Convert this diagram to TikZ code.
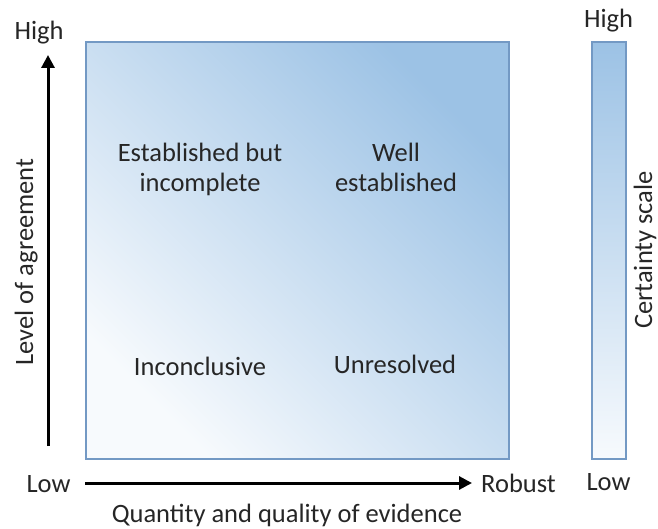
\documentclass[tikz,border=0pt]{standalone}
\usepackage{fontspec}
\setmainfont{Carlito}
\usetikzlibrary{arrows.meta}
\definecolor{dark}{HTML}{9CC2E5}
\definecolor{light}{HTML}{F7FAFD}
\definecolor{edge}{HTML}{7399C4}
\tikzset{
  lbl/.style={font=\fontsize{26.5}{30}\selectfont, inner sep=0pt, text=black!85, anchor=base},
  cell/.style={lbl, align=center},
  axisarrow/.style={line width=3pt, -{Triangle[length=13pt,width=13pt]}},
}
\begin{document}
\begin{tikzpicture}[x=1pt,y=-1pt]
\useasboundingbox (0,0) rectangle (658,529);
% main square
\shade[draw=edge, line width=1.3pt, shading=axis, top color=dark, bottom color=light, shading angle=-45]
  (86,42) rectangle (509,459);
% colour bar
\shade[draw=edge, line width=1.3pt, top color=dark, bottom color=light]
  (592,42) rectangle (626,459);
% cell labels (base = baseline of last line)
\node[cell] (c1) at (200,192) {Established but\\incomplete};
\node[cell] (c2) at (396,192) {Well\\established};
\node[cell] (c3) at (200,375) {Inconclusive};
\node[cell] (c4) at (395,373) {Unresolved};
% axes
\node[lbl] (hi) at (39,40) {High};
\node[lbl] (lo) at (48.5,492) {Low};
\node[lbl] (rob) at (518.5,492) {Robust};
\coordinate (vs) at (48,446);
\coordinate (ve) at (48,55);
\draw[axisarrow] (vs) -- (ve);
\coordinate (hs) at (85,483);
\coordinate (he) at (472,483);
\draw[axisarrow] (hs) -- (he);
\node[lbl] (xl) at (287,522) {Quantity and quality of evidence};
\node[lbl, rotate=90] (yl) at (33,262) {Level of agreement};
% colour bar labels
\node[lbl] (bhi) at (608.5,28) {High};
\node[lbl] (blo) at (608.5,490) {Low};
\node[lbl, rotate=90] (cs) at (652,250) {Certainty scale};
\end{tikzpicture}
\end{document}
